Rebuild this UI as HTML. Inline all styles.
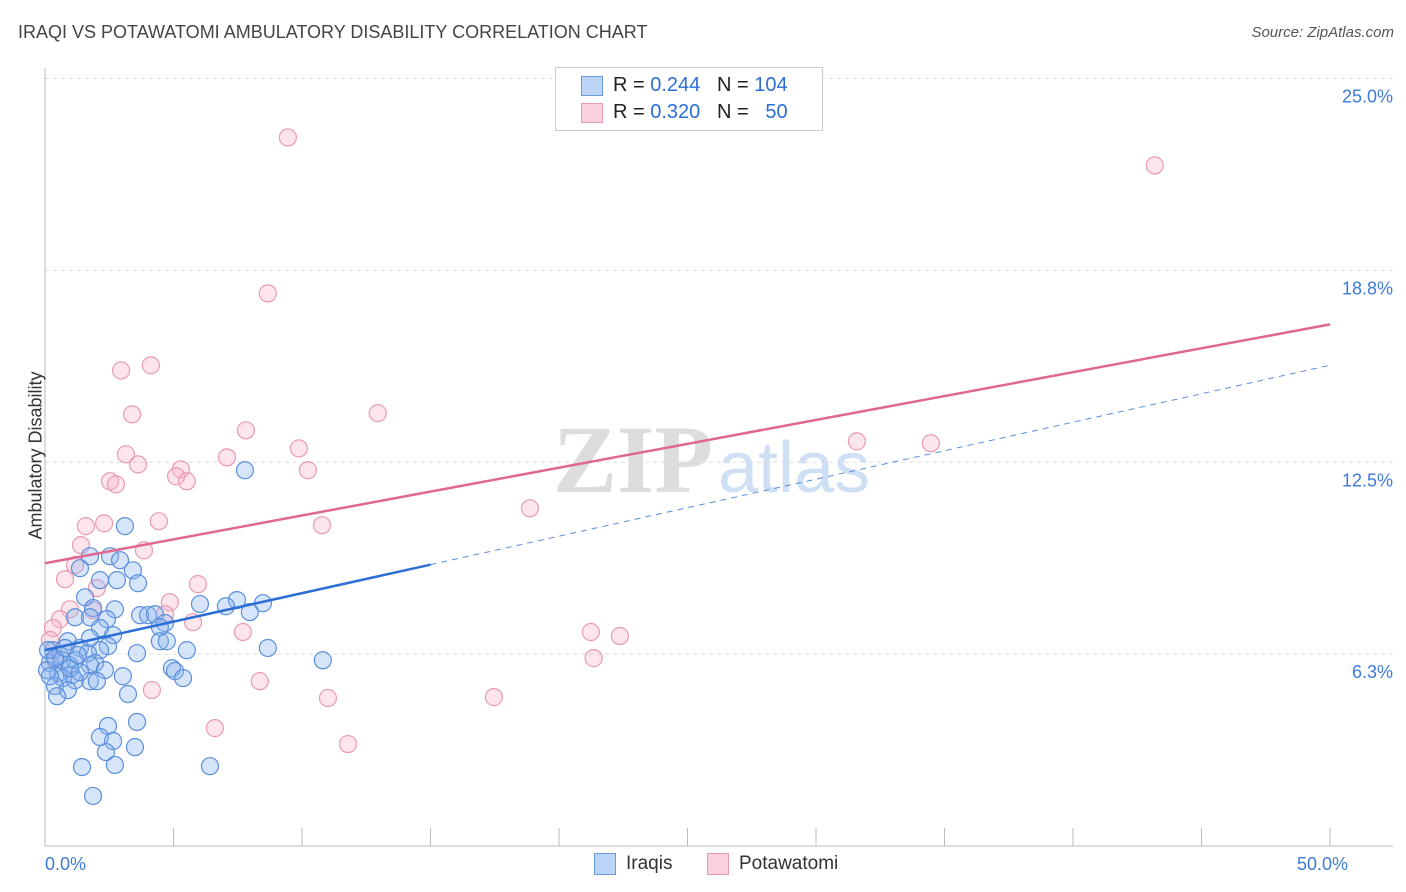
<!DOCTYPE html>
<html><head><meta charset="utf-8"><style>
body{margin:0;background:#fff;font-family:"Liberation Sans",sans-serif;}
#wrap{position:relative;width:1406px;height:892px;overflow:hidden;}
.t{position:absolute;white-space:nowrap;}
</style></head><body>
<div id="wrap">
<div class="t" style="left:18px;top:22px;font-size:18px;color:#444;">IRAQI VS POTAWATOMI AMBULATORY DISABILITY CORRELATION CHART</div>
<div class="t" style="right:12px;top:24px;font-size:15px;color:#555;font-style:italic;">Source: ZipAtlas.com</div>
<svg id="svg" width="1406" height="892" style="position:absolute;left:0;top:0">
<text x="553" y="492" font-family="Liberation Serif,serif" font-size="96" fill="#ddd" font-weight="bold">ZIP</text>
<text x="718" y="492" font-family="Liberation Sans,sans-serif" font-size="72" fill="#cfe0f5">atlas</text>
<g id="grid"></g><g id="pts"></g><g id="lines"></g>
</svg>
<div class="t" style="left:-48px;top:445px;transform:rotate(-90deg);font-size:18px;color:#333;">Ambulatory Disability</div>
<div style="position:absolute;left:555px;top:67px;width:266px;height:62px;border:1px solid #ccc;background:#fff;font-size:20px;">
 <div style="position:absolute;left:25px;top:8px;width:20px;height:18px;background:#bcd4f5;border:1px solid #6a9ae0"></div>
 <div class="t" style="left:57px;top:6px;color:#222">R = <span style="color:#2b6fd6">0.244</span>&nbsp;&nbsp;&nbsp;N = <span style="color:#2b6fd6">104</span></div>
 <div style="position:absolute;left:25px;top:35px;width:20px;height:18px;background:#fbd0dd;border:1px solid #e89ab3"></div>
 <div class="t" style="left:57px;top:33px;color:#222">R = <span style="color:#2b6fd6">0.320</span>&nbsp;&nbsp;&nbsp;N = &nbsp;&nbsp;<span style="color:#2b6fd6">50</span></div>
</div>
<div style="position:absolute;left:594px;top:853px;width:20px;height:20px;background:#bcd4f5;border:1px solid #6a9ae0"></div>
<div class="t" style="left:626px;top:853px;font-size:19px;color:#333">Iraqis</div>
<div style="position:absolute;left:707px;top:853px;width:20px;height:20px;background:#fbd0dd;border:1px solid #e89ab3"></div>
<div class="t" style="left:739px;top:853px;font-size:19px;color:#333">Potawatomi</div>
</div>
<script>
const yTicks=[25.0,18.75,12.5,6.25];
const yTickLabels=["25.0%","18.8%","12.5%","6.3%"];
const xTickLabels=["0.0%","50.0%"];
const blueX=[3.11,7.78,1.75,2.53,2.92,1.36,3.42,2.14,2.8,3.62,1.56,7.47,8.48,6.03,7.04,1.87,2.72,7.97,3.7,4.01,4.28,1.17,1.75,2.41,4.67,4.47,2.14,2.65,1.75,0.89,4.47,4.74,2.45,1.36,0.31,5.52,3.58,8.67,2.14,1.67,0.58,10.81,1.17,0.19,1.95,0.97,1.75,4.94,5.06,2.33,0.51,1.05,3.03,5.37,0.7,1.75,2.02,1.17,0.39,0.89,3.23,0.47,3.58,2.45,2.14,2.65,3.5,2.37,1.44,2.72,6.42,1.87,0.12,0.66,0.97,0.08,1.36,0.39,0.78,1.28,0.19];
const blueY=[10.42,12.24,9.44,9.44,9.31,9.05,8.98,8.66,8.66,8.56,8.1,8.01,7.91,7.88,7.81,7.75,7.71,7.62,7.52,7.52,7.55,7.45,7.45,7.39,7.26,7.13,7.1,6.87,6.77,6.67,6.67,6.67,6.51,6.45,6.38,6.38,6.28,6.45,6.38,6.28,6.22,6.05,6.05,5.96,5.96,5.89,5.89,5.79,5.7,5.73,5.63,5.57,5.53,5.47,5.47,5.37,5.37,5.4,5.21,5.08,4.95,4.88,4.04,3.91,3.55,3.42,3.22,3.06,2.57,2.64,2.6,1.63,6.38,6.05,5.79,5.73,5.66,6.12,6.45,6.22,5.53];
const pinkX=[9.45,43.18,8.67,4.12,2.96,3.39,12.95,7.82,31.59,34.47,9.88,3.15,7.08,3.62,5.29,10.23,5.1,5.52,2.53,2.76,18.87,4.43,1.59,2.3,10.78,1.4,3.85,1.17,0.78,5.95,2.02,4.86,0.97,1.87,4.67,0.58,5.76,0.31,21.24,22.37,7.7,0.19,0.39,21.35,8.36,4.16,17.47,11.01,6.61,11.79];
const pinkY=[23.08,22.17,18.0,15.66,15.49,14.06,14.1,13.54,13.18,13.12,12.95,12.76,12.66,12.43,12.27,12.24,12.04,11.88,11.88,11.78,11.0,10.58,10.42,10.51,10.45,9.8,9.63,9.15,8.69,8.53,8.4,7.94,7.71,7.68,7.55,7.39,7.29,7.1,6.97,6.84,6.97,6.71,6.05,6.12,5.37,5.08,4.85,4.82,3.84,3.32];
const blueTrend=[6.38,15.66], pinkTrend=[9.21,16.99];
const NS="http://www.w3.org/2000/svg";
const sx=v=>45+v/50*1285, sy=v=>846-v/25*767.5;
function mk(tag,attrs,parent){const e=document.createElementNS(NS,tag);for(const k in attrs)e.setAttribute(k,attrs[k]);parent.appendChild(e);return e;}
const grid=document.getElementById('grid'),pts=document.getElementById('pts'),lines=document.getElementById('lines');
yTicks.forEach((v,i)=>{
 const l=mk('line',{x1:45,x2:1393,y1:sy(v),y2:sy(v),stroke:'#ddd','stroke-dasharray':'4,4'},grid);
 
 
 const t=mk('text',{x:1393,y:sy(v)+24,'text-anchor':'end','font-size':18,fill:'#3d7bd6'},grid);
 t.textContent=yTickLabels[i];
 
 
});
mk('line',{x1:45,x2:45,y1:68,y2:846,stroke:'#bbb'},grid);
mk('line',{x1:45,x2:1393,y1:846,y2:846,stroke:'#bbb'},grid);
for(let i=0;i<=10;i++){mk('line',{x1:sx(i*5),x2:sx(i*5),y1:828,y2:846,stroke:'#bbb'},grid);}
[[0,'start'],[50,'end']].forEach((a,i)=>{const t=mk('text',{x:sx(a[0])+(i?18:0),y:870,'text-anchor':a[1],'font-size':18,fill:'#3d7bd6'},grid);t.textContent=xTickLabels[i];
 
 });
function dots(X,Y,fill,stroke,name){X.forEach((x,i)=>{const c=mk('circle',{cx:sx(x),cy:sy(Y[i]),r:8.5,fill:fill,stroke:stroke,'stroke-width':1.2},pts);
 
 });}
dots(pinkX,pinkY,'rgba(248,180,200,0.35)','#e99ab4','potawatomi-point');
dots(blueX,blueY,'rgba(140,180,240,0.35)','#5a8fdc','iraqi-point');
const bl=v=>blueTrend[0]+(blueTrend[1]-blueTrend[0])*v/50;
let e=mk('line',{x1:sx(0),y1:sy(bl(0)),x2:sx(15),y2:sy(bl(15)),stroke:'#2b6fd6','stroke-width':2.5},lines);


e=mk('line',{x1:sx(15),y1:sy(bl(15)),x2:sx(50),y2:sy(bl(50)),stroke:'#5a8fdc','stroke-width':1,'stroke-dasharray':'6,5'},lines);


e=mk('line',{x1:sx(0),y1:sy(pinkTrend[0]),x2:sx(50),y2:sy(pinkTrend[1]),stroke:'#e06890','stroke-width':2.5},lines);


</script>
</body></html>
